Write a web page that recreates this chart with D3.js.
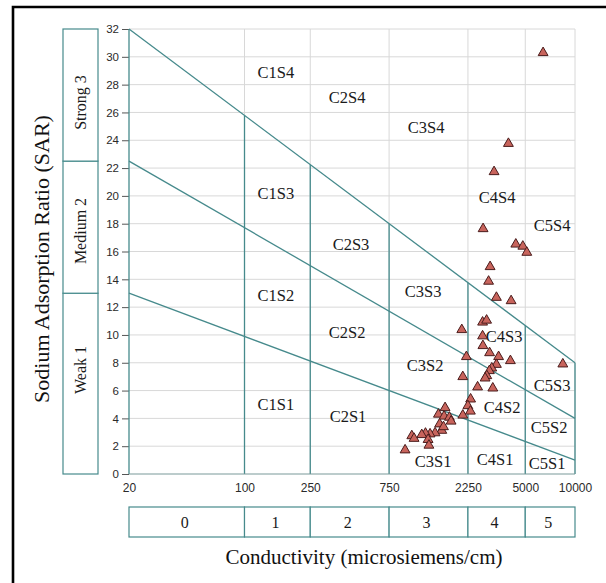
<!DOCTYPE html>
<html>
<head>
<meta charset="utf-8">
<script src="https://cdn.jsdelivr.net/npm/d3@7"></script>
<style>
  html, body { margin: 0; padding: 0; background: #ffffff; }
  svg { display: block; }
</style>
</head>
<body>
<svg id="chart" width="606" height="583"></svg>
<script>
// ---------------- DATA ----------------
const ecTicks = [20, 100, 250, 750, 2250, 5000, 10000];
const ecTickLabels = ["20", "100", "250", "750", "2250", "5000", "10000"];
const sarTicks = [0, 2, 4, 6, 8, 10, 12, 14, 16, 18, 20, 22, 24, 26, 28, 30, 32];
const salinityClassLabels = ["0", "1", "2", "3", "4", "5"];
const sodiumBounds = [0, 13, 22.5, 32];
const sodiumClassLabels = ["Weak 1", "Medium 2", "Strong 3"];

// S1/S2, S2/S3, S3/S4 boundary lines: [EC, SAR] end points
const lineS1S2 = [[20, 13], [10000, 1]];
const lineS2S3 = [[20, 22.5], [10000, 4]];
const lineS3S4 = [[20, 32], [10000, 8]];

const regionNames = ["C1S4", "C2S4", "C3S4", "C4S4", "C5S4",
                     "C1S3", "C2S3", "C3S3", "C4S3", "C5S3",
                     "C1S2", "C2S2", "C3S2", "C4S2", "C5S2",
                     "C1S1", "C2S1", "C3S1", "C4S1", "C5S1"];
const regionEC  = [155, 418, 1255, 3378, 7270,
                   155, 441, 1204, 3724, 7270,
                   155, 418, 1238, 3622, 6973,
                   155, 423, 1384, 3284, 6781];
const regionSAR = [28.9, 27.1, 24.9, 19.85, 17.9,
                   20.2, 16.47, 13.09, 9.92, 6.4,
                   12.87, 10.14, 7.77, 4.75, 3.31,
                   5.03, 4.1, 0.93, 1.01, 0.79];

// Water samples
const sampleEC = [6412, 3954, 3238, 2779, 4383, 4833, 5110, 3064, 3000, 3345,
                  4106, 2759, 2918, 2065, 2759, 2771, 3042, 3449, 4066, 2202,
                  3345, 3136, 3034, 2926, 2858, 2094, 8440, 2574, 3181, 2335,
                  2248, 2328, 2094, 1636, 1491, 1614, 1738, 1779, 1516, 1563,
                  1423, 1327, 1245, 1182, 1029, 1062, 1291, 1306, 937, 1600];
const sampleSAR = [30.35, 23.82, 21.79, 17.69, 16.58, 16.43, 15.99, 14.96, 13.91, 12.75,
                   12.51, 10.97, 11.11, 10.43, 9.98, 9.28, 8.77, 8.49, 8.2, 8.49,
                   7.93, 7.67, 7.48, 7.12, 6.95, 7.05, 7.96, 6.31, 6.23, 5.44,
                   4.96, 4.57, 4.28, 4.82, 4.35, 4.21, 4.13, 3.85, 3.65, 3.19,
                   3.01, 2.93, 2.98, 2.88, 2.8, 2.61, 2.53, 2.12, 1.78, 3.45];

// ---------------- DRAWING ----------------
const svg = d3.select("#chart");
const teal = "#468a8c";
const grid = "#d8d8d8";
const serif = "'Liberation Serif', 'Times New Roman', serif";
const sans = "'Liberation Sans', Arial, sans-serif";

const x = d3.scaleLog().domain([20, 10000]).range([129, 575]);
const y = d3.scaleLinear().domain([0, 32]).range([474, 29]);

// outer frame (extends beyond the picture on right and bottom)
svg.append("path")
  .attr("d", `M13,${583 + 5} L13,7 L${606 + 5},7`)
  .attr("fill", "none").attr("stroke", "#000").attr("stroke-width", 2.6);

// grid
svg.append("g").selectAll("line").data(sarTicks.filter(d => d > 0)).join("line")
  .attr("x1", x(20)).attr("x2", x(10000))
  .attr("y1", d => y(d)).attr("y2", d => y(d))
  .attr("stroke", grid).attr("stroke-width", 1);
svg.append("g").selectAll("line").data(ecTicks.slice(1)).join("line")
  .attr("x1", d => x(d)).attr("x2", d => x(d))
  .attr("y1", y(0)).attr("y2", y(32))
  .attr("stroke", grid).attr("stroke-width", 1);

// y axis ticks + labels
const yAxis = d3.axisLeft(y).tickValues(sarTicks).tickSize(7).tickPadding(3).tickFormat(d3.format("d"));
const gy = svg.append("g").attr("transform", `translate(${x(20)},0)`).call(yAxis);
gy.select(".domain").remove();
gy.selectAll(".tick line").attr("stroke", "#555");
gy.selectAll(".tick text").attr("font-family", sans).attr("font-size", 11.5).attr("fill", "#2a2a2a");

// x axis labels
const xAxis = d3.axisBottom(x).tickValues(ecTicks).tickSize(0).tickPadding(9)
  .tickFormat((d, i) => ecTickLabels[i]);
const gx = svg.append("g").attr("transform", `translate(0,${y(0)})`).call(xAxis);
gx.select(".domain").remove();
gx.selectAll(".tick text").attr("font-family", sans).attr("font-size", 12).attr("fill", "#2a2a2a");

// interpolation of a boundary line at a given EC (log-linear)
function lineAt(line, ec) {
  const t = (Math.log10(ec) - Math.log10(line[0][0])) / (Math.log10(line[1][0]) - Math.log10(line[0][0]));
  return line[0][1] + t * (line[1][1] - line[0][1]);
}

// class boundary verticals
svg.append("g").selectAll("line").data(ecTicks).join("line")
  .attr("x1", d => x(d)).attr("x2", d => x(d))
  .attr("y1", y(0)).attr("y2", d => y(lineAt(lineS3S4, d)))
  .attr("stroke", teal).attr("stroke-width", 1.3);
// baseline
svg.append("line").attr("x1", x(20)).attr("x2", x(10000)).attr("y1", y(0)).attr("y2", y(0))
  .attr("stroke", "#7a9a9a").attr("stroke-width", 1.2);

// diagonal boundaries
const lineGen = d3.line().x(d => x(d[0])).y(d => y(d[1]));
svg.append("g").selectAll("path").data([lineS1S2, lineS2S3, lineS3S4]).join("path")
  .attr("d", lineGen).attr("fill", "none").attr("stroke", teal).attr("stroke-width", 1.3);

// region labels
svg.append("g").selectAll("text").data(regionNames).join("text")
  .attr("x", (d, i) => x(regionEC[i])).attr("y", (d, i) => y(regionSAR[i]))
  .attr("text-anchor", "middle").attr("dominant-baseline", "central")
  .attr("font-family", serif).attr("font-size", 16.5).attr("fill", "#1a1a1a")
  .text(d => d);

// samples
const tri = d3.symbol().type(d3.symbolTriangle).size(42);
svg.append("g").selectAll("path").data(sampleEC).join("path")
  .attr("transform", (d, i) => `translate(${x(d)},${y(sampleSAR[i]) + 0.8})`)
  .attr("d", tri)
  .attr("fill", "#c8645c").attr("stroke", "#4a1c1c").attr("stroke-width", 1);

// sodium hazard boxes on left
const sb = svg.append("g");
sodiumClassLabels.forEach((lab, i) => {
  const y0 = y(sodiumBounds[i + 1]), y1 = y(sodiumBounds[i]);
  sb.append("rect").attr("x", 63).attr("y", y0).attr("width", 35).attr("height", y1 - y0)
    .attr("fill", "#fff").attr("stroke", teal).attr("stroke-width", 1.2);
});
const sodiumTextY = [370, 231, 102.5];
sodiumClassLabels.forEach((lab, i) => {
  sb.append("text").attr("transform", `translate(86,${sodiumTextY[i]}) rotate(-90)`)
    .attr("text-anchor", "middle").attr("font-family", serif).attr("font-size", 16)
    .attr("fill", "#1a1a1a").text(lab);
});

// salinity hazard boxes at bottom
const cb = svg.append("g");
salinityClassLabels.forEach((lab, i) => {
  const x0 = x(ecTicks[i]), x1 = x(ecTicks[i + 1]);
  cb.append("rect").attr("x", x0).attr("y", 507).attr("width", x1 - x0).attr("height", 30)
    .attr("fill", "#fff").attr("stroke", teal).attr("stroke-width", 1.2);
  cb.append("text").attr("x", (x0 + x1) / 2 - 2).attr("y", 522)
    .attr("text-anchor", "middle").attr("dominant-baseline", "central")
    .attr("font-family", serif).attr("font-size", 16).attr("fill", "#1a1a1a").text(lab);
});

// axis titles
svg.append("text").attr("x", 364).attr("y", 564).attr("text-anchor", "middle")
  .attr("font-family", serif).attr("font-size", 21).attr("fill", "#111")
  .text("Conductivity (microsiemens/cm)");
svg.append("text").attr("transform", "translate(49,259) rotate(-90)").attr("text-anchor", "middle")
  .attr("font-family", serif).attr("font-size", 22).attr("fill", "#111")
  .text("Sodium Adsorption Ratio (SAR)");
</script>
</body>
</html>
